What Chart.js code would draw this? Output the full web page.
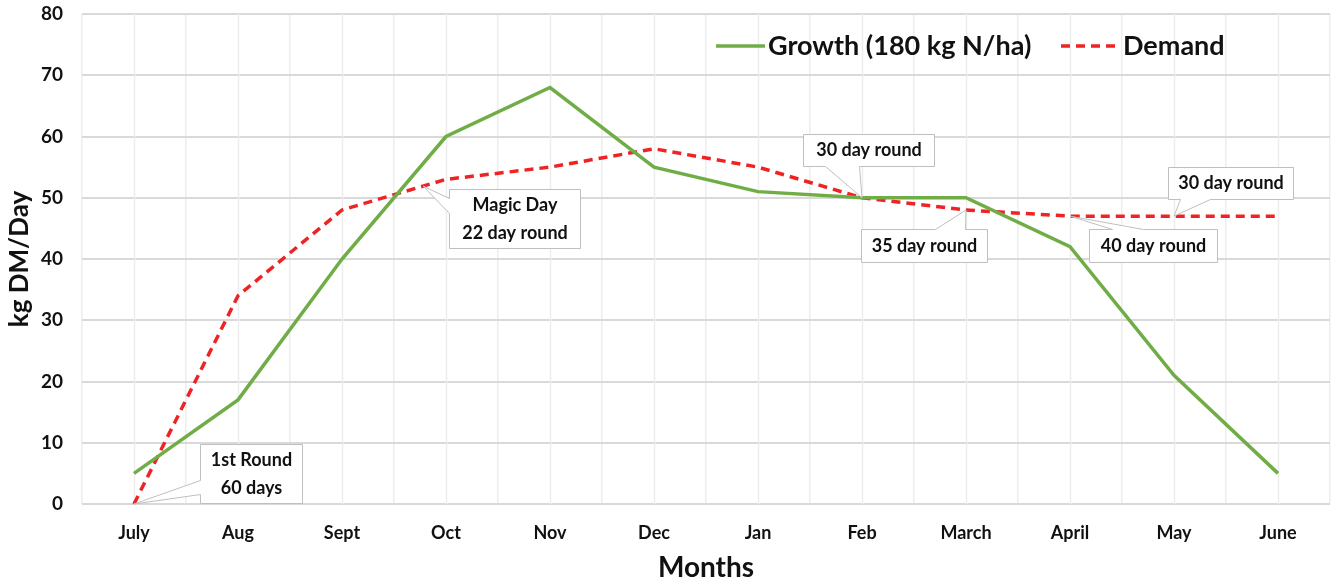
<!DOCTYPE html>
<html>
<head>
<meta charset="utf-8">
<script src="https://cdn.jsdelivr.net/npm/chart.js@4"></script>
<style>
  html, body { margin: 0; padding: 0; background: #fff; }
  #wrap { width: 1340px; height: 587px; }
</style>
</head>
<body>
<div id="wrap"><canvas id="growthChart" width="1340" height="587"></canvas></div>
<script>
const months = ['July', 'Aug', 'Sept', 'Oct', 'Nov', 'Dec', 'Jan', 'Feb', 'March', 'April', 'May', 'June'];
const growth = [5, 17, 40, 60, 68, 55, 51, 50, 50, 42, 21, 5];
const demand = [0, 34, 48, 53, 55, 58, 55, 50, 48, 47, 47, 47];
const yTicks = [0, 10, 20, 30, 40, 50, 60, 70, 80];

// callout boxes: which point of the demand line they point at, and where the box sits
const callouts = [
    { lines: ['1st Round', '60 days'], at: 0, box: [66, -60, 102, 59], side: 'left', base: [36, 50] },
    { lines: ['Magic Day', '22 day round'], at: 2.78, box: [26, 3, 131, 59], side: 'left', base: [9, 24] },
    { lines: ['30 day round'], at: 7, box: [-59, -64, 131, 32], side: 'bottom', base: [22, 56] },
    { lines: ['35 day round'], at: 8, box: [-105, 19, 126, 33], side: 'top', base: [74, 104] },
    { lines: ['40 day round'], at: 9, box: [19, 13, 128, 33], side: 'top', base: [23, 54] },
    { lines: ['30 day round'], at: 10, box: [-6, -49, 125, 32], side: 'bottom', base: [12, 42] }
];

const FONT = 'Lato, "Open Sans", sans-serif';
const GREEN = '#70ad47';
const RED = '#ee2424';

const extras = {
    id: 'extras',
    beforeDatasetsDraw(chart) {
        // light vertical lines at each month centre
        const { ctx, chartArea: a, scales: { x } } = chart;
        ctx.save();
        ctx.strokeStyle = '#ededed';
        ctx.lineWidth = 1.5;
        months.forEach((m, i) => {
            const px = Math.round(x.getPixelForValue(i)) + 0.5;
            ctx.beginPath();
            ctx.moveTo(px, a.top);
            ctx.lineTo(px, a.bottom);
            ctx.stroke();
        });
        ctx.restore();
    },
    afterDatasetsDraw(chart) {
        const { ctx, chartArea: a, scales: { x, y } } = chart;
        ctx.save();

        // callouts
        ctx.font = 'bold 18px ' + FONT;
        ctx.textAlign = 'center';
        ctx.textBaseline = 'middle';
        callouts.forEach(c => {
            const i0 = Math.floor(c.at), f = c.at - i0;
            const v = f > 0 ? demand[i0] + (demand[i0 + 1] - demand[i0]) * f : demand[i0];
            const tx = x.getPixelForValue(i0) + (f > 0 ? f * (x.getPixelForValue(i0 + 1) - x.getPixelForValue(i0)) : 0);
            const ty = y.getPixelForValue(v);
            const bx = Math.round(tx + c.box[0]) + 0.5, by = Math.round(ty + c.box[1]) + 0.5;
            const bw = c.box[2], bh = c.box[3];
            const [p, q] = c.base;
            ctx.beginPath();
            if (c.side === 'top') {
                ctx.moveTo(bx, by);
                ctx.lineTo(bx + p, by); ctx.lineTo(tx, ty); ctx.lineTo(bx + q, by);
                ctx.lineTo(bx + bw, by); ctx.lineTo(bx + bw, by + bh); ctx.lineTo(bx, by + bh);
            } else if (c.side === 'bottom') {
                ctx.moveTo(bx, by);
                ctx.lineTo(bx + bw, by); ctx.lineTo(bx + bw, by + bh);
                ctx.lineTo(bx + q, by + bh); ctx.lineTo(tx, ty); ctx.lineTo(bx + p, by + bh);
                ctx.lineTo(bx, by + bh);
            } else {
                ctx.moveTo(bx, by);
                ctx.lineTo(bx + bw, by); ctx.lineTo(bx + bw, by + bh); ctx.lineTo(bx, by + bh);
                ctx.lineTo(bx, by + q); ctx.lineTo(tx, ty); ctx.lineTo(bx, by + p);
            }
            ctx.closePath();
            ctx.fillStyle = '#fff';
            ctx.fill();
            ctx.strokeStyle = '#bfbfbf';
            ctx.lineWidth = 1;
            ctx.stroke();
            ctx.fillStyle = '#111';
            const lh = 28;
            const cy = by + bh / 2 - (c.lines.length - 1) * lh / 2;
            c.lines.forEach((t, k) => ctx.fillText(t, bx + bw / 2, cy + k * lh));
        });

        // legend inside the plot
        const ly = a.top + 32;
        const items = [
            { label: 'Growth (180 kg N/ha)', color: GREEN, dash: [], x0: 716, x1: 765 },
            { label: 'Demand', color: RED, dash: [9, 6], x0: 1061, x1: 1120 }
        ];
        ctx.font = 'bold 27px ' + FONT;
        ctx.textAlign = 'left';
        items.forEach(it => {
            ctx.strokeStyle = it.color;
            ctx.lineWidth = 3.5;
            ctx.setLineDash(it.dash);
            ctx.beginPath();
            ctx.moveTo(it.x0, ly);
            ctx.lineTo(it.x1, ly);
            ctx.stroke();
            ctx.setLineDash([]);
            ctx.fillStyle = '#111';
            ctx.fillText(it.label, it.x1 + 3, ly);
        });
        ctx.restore();
    }
};

new Chart(document.getElementById('growthChart').getContext('2d'), {
    type: 'line',
    data: {
        labels: months,
        datasets: [
            {
                label: 'Growth (180 kg N/ha)',
                data: growth,
                borderColor: GREEN,
                backgroundColor: GREEN,
                borderWidth: 3.5,
                pointRadius: 0,
                tension: 0
            },
            {
                label: 'Demand',
                data: demand,
                borderColor: RED,
                backgroundColor: RED,
                borderWidth: 3.5,
                borderDash: [9, 6],
                pointRadius: 0,
                tension: 0
            }
        ]
    },
    options: {
        responsive: false,
        animation: false,
        layout: { padding: { top: 14, right: 10, left: 0, bottom: 0 } },
        plugins: {
            legend: { display: false },
            tooltip: { enabled: false }
        },
        scales: {
            x: {
                offset: true,
                grid: { offset: true, color: '#ededed', lineWidth: 1.5, drawTicks: false },
                border: { display: false },
                ticks: { color: '#111', font: { family: FONT, size: 18, weight: 'bold' }, padding: 18, maxRotation: 0 },
                title: { display: true, text: 'Months', color: '#111', font: { family: FONT, size: 28, weight: 'bold' }, padding: { top: 0, bottom: 2 } },
                afterFit: s => { s.height = 83; }
            },
            y: {
                min: 0,
                max: 80,
                afterBuildTicks: s => { s.ticks = yTicks.map(v => ({ value: v })); },
                grid: { color: '#d9d9d9', lineWidth: 2, drawTicks: false },
                border: { display: false },
                ticks: { color: '#111', font: { family: FONT, size: 19, weight: 'bold' }, padding: 19 },
                title: { display: true, text: 'kg DM/Day', color: '#111', font: { family: FONT, size: 26, weight: 'bold' }, padding: { top: 4, bottom: 0 } },
                afterFit: s => { s.width = 82; s.paddingTop = 12; s.paddingBottom = 12; }
            }
        }
    },
    plugins: [extras]
});
</script>
</body>
</html>
